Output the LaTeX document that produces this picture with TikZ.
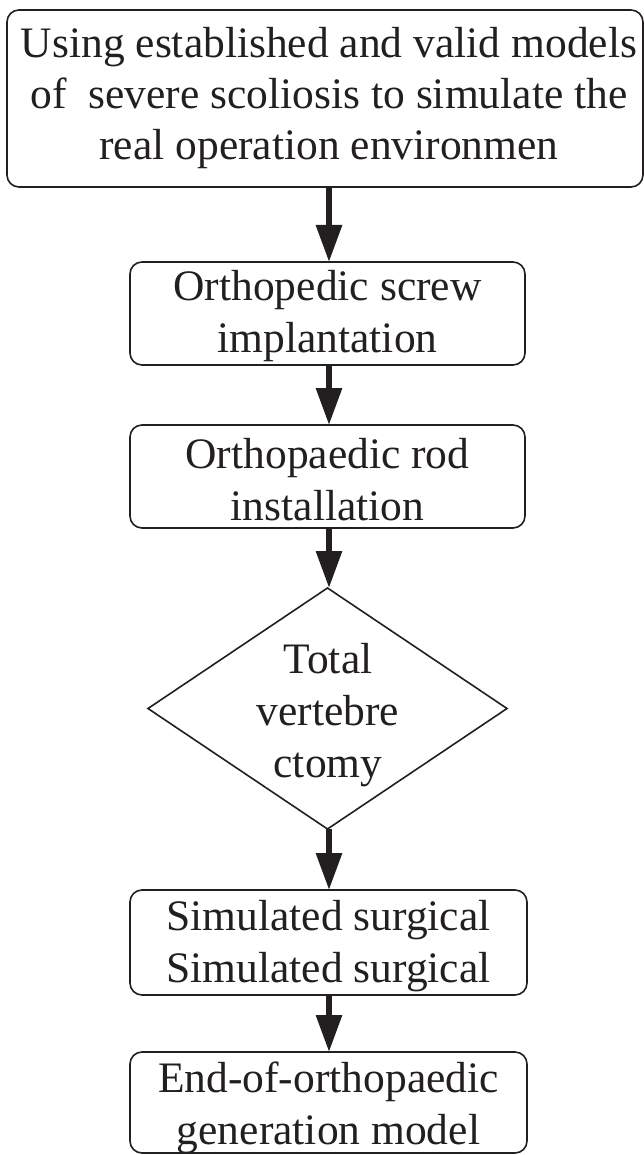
\documentclass[tikz,border=0pt]{standalone}
\usepackage{fontspec}
\setmainfont{Liberation Serif}
\usetikzlibrary{arrows.meta,shapes.geometric}
\definecolor{ink}{RGB}{35,31,32}
\begin{document}
\begin{tikzpicture}[x=1pt,y=-1pt,
  every node/.style={inner sep=0pt, outer sep=0pt},
  box/.style={draw=ink, line width=1.6pt, rounded corners=12pt, rectangle},
  txt/.style={align=center, text=ink, font=\fontsize{43.5}{51}\selectfont},
  txtb/.style={txt, font=\fontsize{43.5}{52}\selectfont},
  arr/.style={draw=ink, line width=6pt, -{Triangle[length=37pt,width=25pt]}, shorten >=0pt}
]
\useasboundingbox (0,0) rectangle (644,1155);
\coordinate (ax) at (329,0);
\node[box, minimum width=636pt, minimum height=177pt] (top) at (325,98.5) {};
\node[txt] at (329,98.5) {Using established and valid models\\of\ \ severe scoliosis to simulate the\\real operation environmen};
\node[box, minimum width=395pt, minimum height=103pt] (b2) at (327.5,313.5) {};
\node[txtb] at (327.5,316.5) {Orthopedic screw\\implantation};
\node[box, minimum width=395pt, minimum height=103pt] (b3) at (327.5,476.5) {};
\node[txtb] at (327.5,479.5) {Orthopaedic rod\\installation};
\node[diamond, draw=ink, line width=1.6pt, minimum width=359pt, minimum height=241pt] (d) at (327.5,708.5) {};
\node[txtb] at (328,715) {Total\\vertebre\\ctomy};
\node[box, minimum width=397pt, minimum height=105pt] (b5) at (328.5,942.5) {};
\node[txtb] at (328.5,946.5) {Simulated surgical\\Simulated surgical};
\node[box, minimum width=397pt, minimum height=101pt] (b6) at (328.5,1102.5) {};
\node[txtb] at (328.5,1107.5) {End-of-orthopaedic\\generation model};
\draw[arr] (top.south -| ax) -- (b2.north -| ax);
\draw[arr] (b2.south -| ax) -- (b3.north -| ax);
\draw[arr] (b3.south -| ax) -- (d.north -| ax);
\draw[arr] (d.south -| ax) -- (b5.north -| ax);
\draw[arr] (b5.south -| ax) -- (b6.north -| ax);
\end{tikzpicture}
\end{document}
